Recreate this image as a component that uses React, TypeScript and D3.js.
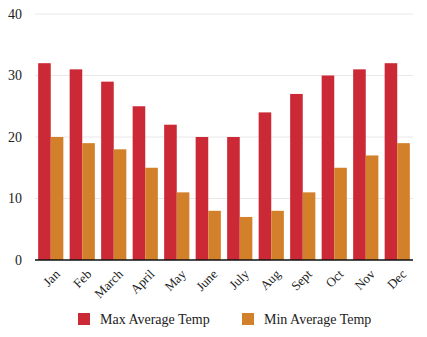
import React from "react";
import * as d3 from "d3";

const months = ["Jan", "Feb", "March", "April", "May", "June", "July", "Aug", "Sept", "Oct", "Nov", "Dec"];
const maxTemp = [32, 31, 29, 25, 22, 20, 20, 24, 27, 30, 31, 32];
const minTemp = [20, 19, 18, 15, 11, 8, 7, 8, 11, 15, 17, 19];
const yTicks = [0, 10, 20, 30, 40];
const seriesNames = ["Max Average Temp", "Min Average Temp"];
const colors = ["#cc2936", "#d3802a"];

export default function App() {
  const W = 427, H = 337;
  const left = 35, right = 413, top = 14, bottom = 260;
  const x = d3.scaleBand<string>().domain(months).range([left, right]).paddingInner(0.2).paddingOuter(0.1);
  const y = d3.scaleLinear().domain([0, 40]).range([bottom, top]);
  const bw = x.bandwidth() / 2;
  const font = "Liberation Serif, Times New Roman, serif";
  const ts = { fontFamily: font };
  return (
    <svg width={W} height={H} style={{ position: "absolute", left: 0, top: 0, background: "#fff", fontFamily: font }}>
      {yTicks.map((t) => (
        <g key={t}>
          {t > 0 && <line x1={left} x2={right} y1={y(t)} y2={y(t)} stroke="#e8e8e8" strokeWidth={1} />}
          <text x={22} y={y(t)} dy="0.35em" textAnchor="end" fontSize={14} fill="#222" style={ts}>{t}</text>
        </g>
      ))}
      {months.map((m, i) => (
        <g key={m}>
          <rect x={x(m)!} y={y(maxTemp[i])} width={bw} height={bottom - y(maxTemp[i])} fill={colors[0]} />
          <rect x={x(m)! + bw} y={y(minTemp[i])} width={bw} height={bottom - y(minTemp[i])} fill={colors[1]} />
          <text
            transform={`translate(${x(m)! + x.bandwidth() / 2 + 10},${bottom + 15}) rotate(-45)`}
            textAnchor="end"
            fontSize={13}
            fill="#222"
            style={ts}
          >{m}</text>
        </g>
      ))}
      <line x1={left} x2={right} y1={bottom} y2={bottom} stroke="#111" strokeWidth={1.5} />
      {seriesNames.map((s, i) => (
        <g key={s} transform={`translate(${i === 0 ? 78 : 242},313)`}>
          <rect x={0} y={0} width={12} height={12} fill={colors[i]} />
          <text x={22} y={11} fontSize={14} fill="#222" style={ts}>{s}</text>
        </g>
      ))}
    </svg>
  );
}
